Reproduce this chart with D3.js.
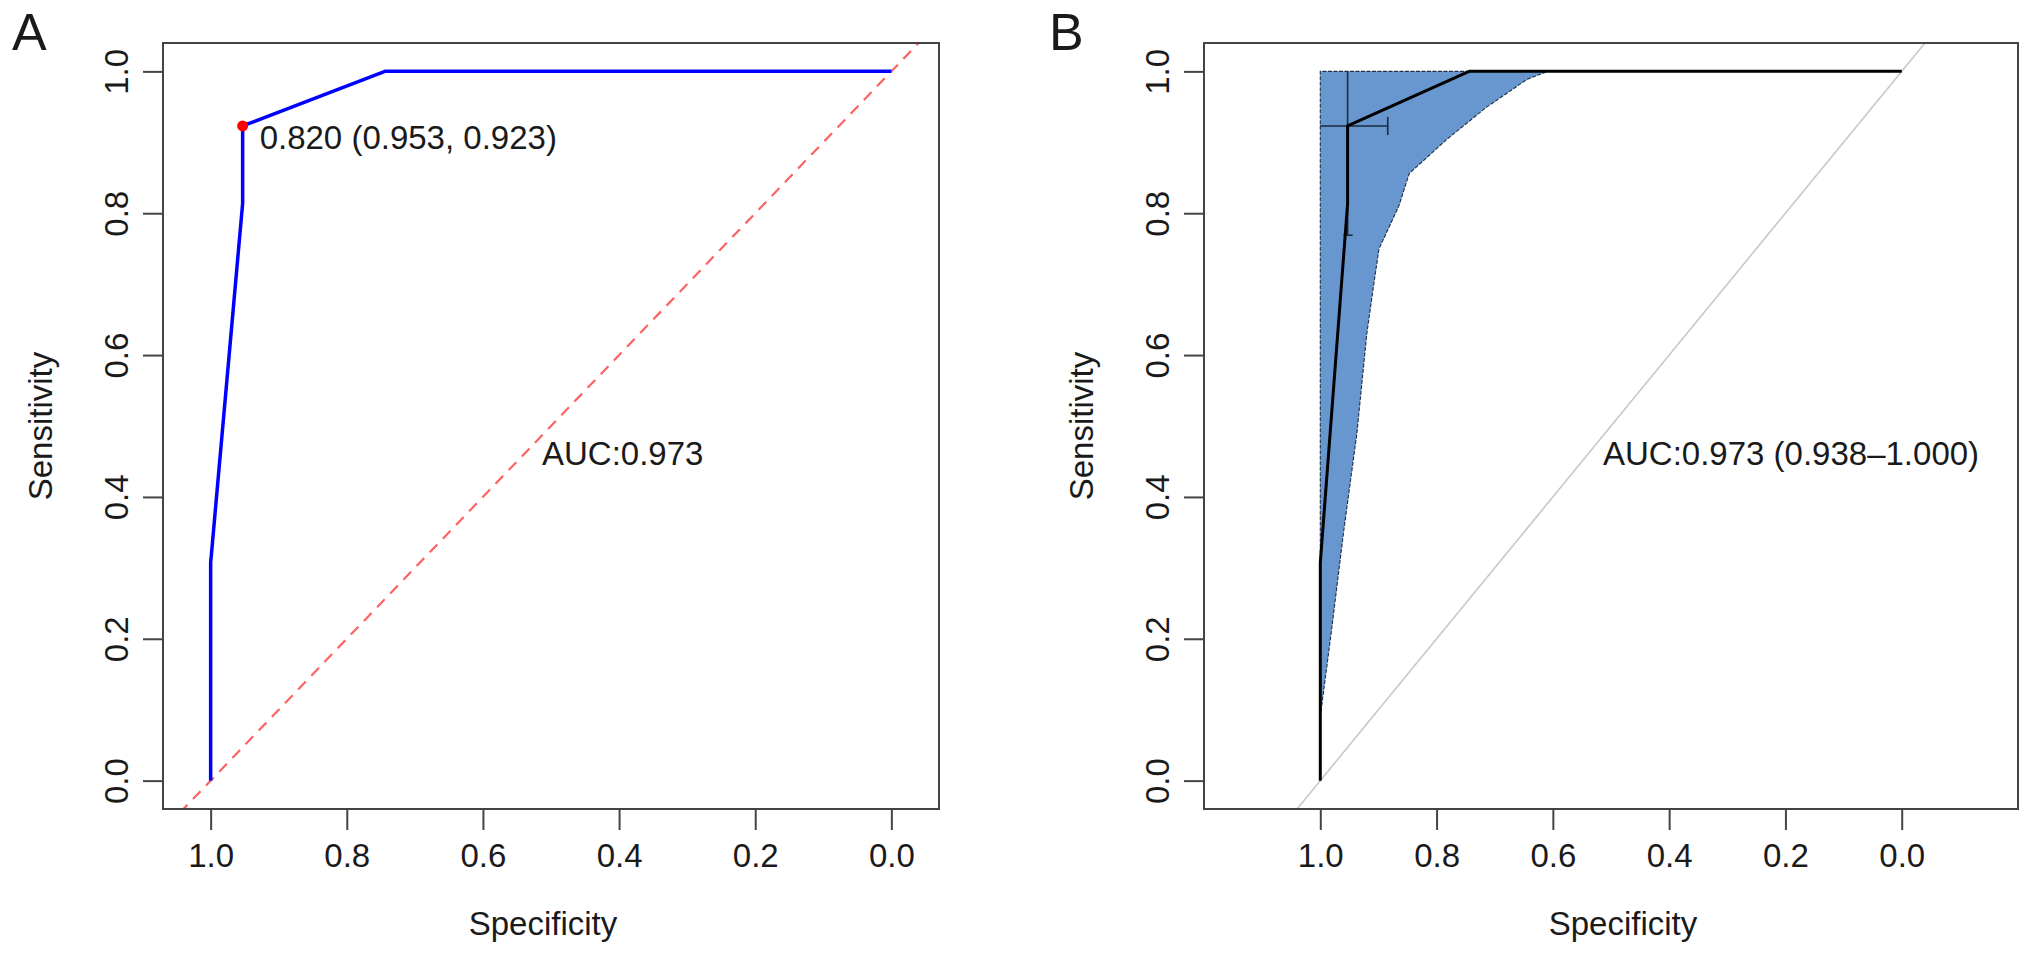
<!DOCTYPE html>
<html>
<head>
<meta charset="utf-8">
<script src="https://cdn.jsdelivr.net/npm/d3@7"></script>
<style>
  body { margin: 0; background: #fff; }
  svg text { font-family: "Liberation Sans", Arial, Helvetica, sans-serif; fill: #1a1a1a; }
</style>
</head>
<body>
<div id="chart"></div>
<script>
// ROC curve (specificity, sensitivity) - same curve in both panels
var rocSpec = [1.0, 1.0, 0.953, 0.953, 0.744, 0.0];
var rocSens = [0.0, 0.307, 0.814, 0.923, 1.0, 1.0];

// confidence band of sensitivity (panel B)
var bandSpec    = [1.0, 0.981, 0.960, 0.937, 0.920, 0.908, 0.899, 0.865, 0.847, 0.784, 0.715, 0.644, 0.609, 0.0];
var bandSensLow = [0.09, 0.21, 0.35, 0.49, 0.63, 0.70, 0.75, 0.81, 0.856, 0.903, 0.949, 0.989, 1.0, 1.0];
var bandSensHigh = [1.0, 1.0, 1.0, 1.0, 1.0, 1.0, 1.0, 1.0, 1.0, 1.0, 1.0, 1.0, 1.0, 1.0];

// best threshold and its CIs
var bestThreshold = 0.820;
var bestSpec = 0.953, bestSens = 0.923;
var bestSpecCI = [0.884, 1.0];
var bestSensCI = [0.769, 1.0];

var ticks = [1.0, 0.8, 0.6, 0.4, 0.2, 0.0];
var aucText = "AUC:0.973";
var aucCIText = "AUC:0.973 (0.938\u20131.000)";

var fs = 33;

var svg = d3.select("#chart").append("svg")
  .attr("width", 2032)
  .attr("height", 956);

var roc = rocSpec.map(function(d, i) { return {spec: d, sens: rocSens[i]}; });
var band = bandSpec.map(function(d, i) { return {spec: d, lo: bandSensLow[i], hi: bandSensHigh[i]}; });

function panel(opts) {
  var x = d3.scaleLinear().domain(opts.xDomain).range([opts.left, opts.right]);
  var y = d3.scaleLinear().domain([-0.04, 1.04]).range([809, 43]);
  var g = svg.append("g");

  g.append("clipPath").attr("id", "clip" + opts.id)
    .append("rect")
    .attr("x", opts.left).attr("y", 43)
    .attr("width", opts.right - opts.left).attr("height", 809 - 43);

  // x axis
  var xa = g.append("g")
    .attr("transform", "translate(0,809)")
    .call(d3.axisBottom(x).tickValues(ticks).tickFormat(d3.format(".1f")).tickSize(21).tickSizeOuter(0));
  xa.select(".domain").remove();
  xa.selectAll("line").attr("stroke", "#444").attr("stroke-width", 2);
  xa.selectAll("text").attr("font-size", fs).attr("fill", "#1a1a1a")
    .attr("y", 58).attr("dy", 0);

  // y axis
  var ya = g.append("g")
    .attr("transform", "translate(" + opts.left + ",0)")
    .call(d3.axisLeft(y).tickValues(ticks).tickFormat(d3.format(".1f")).tickSize(20).tickSizeOuter(0));
  ya.select(".domain").remove();
  ya.selectAll("line").attr("stroke", "#444").attr("stroke-width", 2);
  ya.selectAll("text")
    .attr("font-size", fs)
    .attr("fill", "#1a1a1a")
    .attr("x", 0).attr("dy", 0)
    .attr("text-anchor", "middle")
    .attr("transform", "translate(-35,0) rotate(-90)");

  g.append("text")
    .attr("transform", "translate(" + (opts.left - 111) + ",426) rotate(-90)")
    .attr("text-anchor", "middle")
    .attr("font-size", fs)
    .text("Sensitivity");

  g.append("text")
    .attr("x", opts.xlabX)
    .attr("y", 935)
    .attr("text-anchor", "middle")
    .attr("font-size", fs)
    .text("Specificity");

  g.append("text")
    .attr("x", opts.letterX)
    .attr("y", 50)
    .attr("font-size", 52)
    .text(opts.letter);

  return {g: g, x: x, y: y};
}

// ---------- Panel A ----------
var A = panel({id: "A", left: 163, right: 939, xDomain: [1.07, -0.07], letter: "A", letterX: 12, xlabX: 543});

A.g.append("line")
  .attr("clip-path", "url(#clipA)")
  .attr("x1", A.x(1.2)).attr("y1", A.y(-0.2))
  .attr("x2", A.x(-0.2)).attr("y2", A.y(1.2))
  .attr("stroke", "#ff6262").attr("stroke-width", 2.2)
  .attr("stroke-dasharray", "11,8");

A.g.append("path")
  .datum(roc)
  .attr("fill", "none")
  .attr("stroke", "#0000ff")
  .attr("stroke-width", 3.5)
  .attr("stroke-linejoin", "round")
  .attr("d", d3.line().x(function(d) { return A.x(d.spec); }).y(function(d) { return A.y(d.sens); }));

A.g.append("circle")
  .attr("cx", A.x(bestSpec)).attr("cy", A.y(bestSens))
  .attr("r", 5.5).attr("fill", "#ff0000");

A.g.append("text")
  .attr("x", A.x(bestSpec) + 17)
  .attr("y", A.y(bestSens) + 23)
  .attr("font-size", fs)
  .text(bestThreshold.toFixed(3) + " (" + bestSpec.toFixed(3) + ", " + bestSens.toFixed(3) + ")");

A.g.append("text")
  .attr("x", 542).attr("y", 465)
  .attr("font-size", fs)
  .text(aucText);

A.g.append("rect")
  .attr("x", 163).attr("y", 43).attr("width", 939 - 163).attr("height", 809 - 43)
  .attr("fill", "none").attr("stroke", "#444").attr("stroke-width", 2);

// ---------- Panel B ----------
var B = panel({id: "B", left: 1204, right: 2018, xDomain: [1.2, -0.2], letter: "B", letterX: 1049, xlabX: 1623});

B.g.append("line")
  .attr("clip-path", "url(#clipB)")
  .attr("x1", B.x(1.2)).attr("y1", B.y(-0.2))
  .attr("x2", B.x(-0.2)).attr("y2", B.y(1.2))
  .attr("stroke", "#c8c8c8").attr("stroke-width", 1.6);

var polyPts = band.map(function(d) { return [B.x(d.spec), B.y(d.lo)]; })
  .concat(band.slice().reverse().map(function(d) { return [B.x(d.spec), B.y(d.hi)]; }));
B.g.append("path")
  .attr("d", "M" + polyPts.join("L") + "Z")
  .attr("fill", "#6896ce")
  .attr("stroke", "#1e2f4a")
  .attr("stroke-width", 1.1)
  .attr("stroke-dasharray", "4,1.5");

// CI bars at best threshold
var bx = B.x(bestSpec), by = B.y(bestSens);
B.g.append("line")
  .attr("x1", B.x(bestSpecCI[1])).attr("x2", B.x(bestSpecCI[0]))
  .attr("y1", by).attr("y2", by)
  .attr("stroke", "#1a2a40").attr("stroke-width", 1.6);
B.g.append("line")
  .attr("x1", B.x(bestSpecCI[0])).attr("x2", B.x(bestSpecCI[0]))
  .attr("y1", by - 9).attr("y2", by + 9)
  .attr("stroke", "#1a2a40").attr("stroke-width", 1.6);
B.g.append("line")
  .attr("x1", bx).attr("x2", bx)
  .attr("y1", B.y(bestSensCI[1])).attr("y2", B.y(bestSensCI[0]))
  .attr("stroke", "#1a2a40").attr("stroke-width", 1.6);
B.g.append("line")
  .attr("x1", bx - 4).attr("x2", bx + 5)
  .attr("y1", B.y(bestSensCI[0])).attr("y2", B.y(bestSensCI[0]))
  .attr("stroke", "#1a2a40").attr("stroke-width", 1.6);

B.g.append("path")
  .datum(roc)
  .attr("fill", "none")
  .attr("stroke", "#000")
  .attr("stroke-width", 3)
  .attr("stroke-linejoin", "round")
  .attr("d", d3.line().x(function(d) { return B.x(d.spec); }).y(function(d) { return B.y(d.sens); }));

B.g.append("text")
  .attr("x", 1603).attr("y", 465)
  .attr("font-size", fs)
  .text(aucCIText);

B.g.append("rect")
  .attr("x", 1204).attr("y", 43).attr("width", 2018 - 1204).attr("height", 809 - 43)
  .attr("fill", "none").attr("stroke", "#444").attr("stroke-width", 2);
</script>
</body>
</html>
